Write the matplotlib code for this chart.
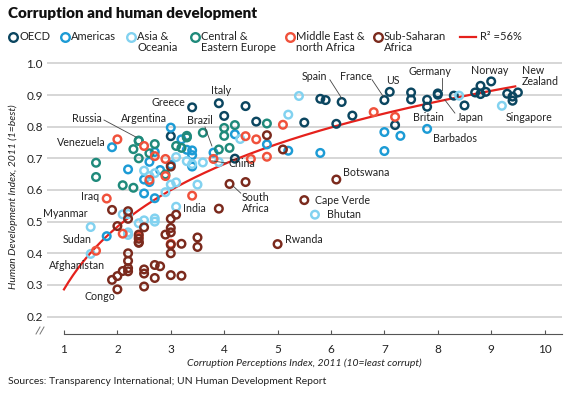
import numpy as np
import matplotlib
matplotlib.use("Agg")
import matplotlib.pyplot as plt
from matplotlib.lines import Line2D

plt.rcParams['font.family'] = ['Lato', 'DejaVu Sans']

# ---------------- data ----------------
oecd_cpi = [8.8, 7.8, 7.5, 7.8, 8.7, 7.2, 4.4, 9.4, 6.4, 9.4, 7.0, 8.0, 3.4, 4.6, 8.3, 7.5, 5.8, 3.9,
            8.0, 8.5, 3.0, 8.9, 9.5, 9.0, 5.5, 6.1, 4.0, 5.9, 6.2, 9.3, 8.8, 4.2, 7.1]
oecd_hdi = [0.929, 0.885, 0.886, 0.863, 0.908, 0.805, 0.865, 0.895, 0.835, 0.882, 0.884, 0.905, 0.861,
            0.816, 0.898, 0.908, 0.888, 0.874, 0.901, 0.867, 0.770, 0.910, 0.908, 0.943, 0.813, 0.809,
            0.834, 0.884, 0.878, 0.904, 0.903, 0.699, 0.910]

americas_cpi = [3.0, 7.3, 7.8, 2.8, 3.8, 3.4, 4.8, 4.2, 5.2, 2.6, 2.7, 3.4, 2.7, 2.5, 1.8, 2.6, 3.3,
                2.5, 3.3, 2.2, 3.4, 7.0, 5.8, 3.0, 3.2, 7.0, 1.9]
americas_hdi = [0.797, 0.771, 0.793, 0.663, 0.718, 0.710, 0.744, 0.776, 0.724, 0.689, 0.720, 0.674,
                0.574, 0.633, 0.454, 0.625, 0.727, 0.589, 0.768, 0.665, 0.725, 0.723, 0.717, 0.680,
                0.760, 0.783, 0.735]

asia_cpi = [1.5, 2.7, 5.7, 5.2, 2.1, 3.6, 8.4, 3.1, 3.0, 3.1, 5.4, 2.2, 4.3, 2.5, 2.7, 1.5, 2.2, 2.5,
            2.2, 2.6, 3.9, 9.2, 2.7, 3.3, 3.4, 2.4, 3.1, 3.5, 2.9]
asia_hdi = [0.398, 0.500, 0.522, 0.838, 0.523, 0.687, 0.898, 0.547, 0.617, 0.624, 0.897, 0.524, 0.761,
            0.661, 0.653, 0.483, 0.458, 0.504, 0.466, 0.644, 0.688, 0.866, 0.510, 0.691, 0.682, 0.495,
            0.704, 0.617, 0.593]

cee_cpi = [3.1, 2.6, 2.4, 2.4, 3.2, 3.3, 4.0, 4.1, 2.7, 2.1, 4.2, 4.8, 3.9, 2.9, 4.0, 3.6, 2.4, 3.3,
           2.3, 1.6, 2.3, 1.6]
cee_hdi = [0.739, 0.716, 0.700, 0.756, 0.733, 0.771, 0.796, 0.733, 0.745, 0.615, 0.805, 0.810, 0.728,
           0.649, 0.771, 0.781, 0.755, 0.766, 0.607, 0.686, 0.729, 0.641]

mena_cpi = [2.9, 5.1, 2.9, 2.7, 1.8, 4.5, 4.6, 2.5, 2.0, 3.4, 4.8, 7.2, 4.4, 1.6, 2.6, 3.8, 6.8, 2.1,
            3.0, 2.4]
mena_hdi = [0.698, 0.806, 0.644, 0.707, 0.573, 0.698, 0.760, 0.739, 0.760, 0.582, 0.705, 0.831, 0.770,
            0.408, 0.632, 0.698, 0.846, 0.462, 0.430, 0.453]

ssa_cpi = [2.0, 3.0, 6.1, 3.0, 1.9, 2.5, 5.5, 2.2, 2.0, 2.4, 2.2, 2.0, 2.2, 1.9, 2.5, 2.7, 3.0, 3.5,
           3.9, 2.1, 2.2, 2.2, 3.5, 3.2, 3.0, 3.0, 2.8, 5.1, 2.7, 4.4, 2.5, 2.4, 5.0, 3.0, 2.9, 4.8,
           2.5, 4.1, 3.1, 3.0, 2.4, 2.4, 3.2, 2.2]
ssa_hdi = [0.486, 0.427, 0.633, 0.331, 0.316, 0.482, 0.568, 0.343, 0.328, 0.433, 0.533, 0.286, 0.400,
           0.537, 0.349, 0.363, 0.674, 0.420, 0.541, 0.344, 0.353, 0.509, 0.450, 0.329, 0.480, 0.400,
           0.359, 0.728, 0.322, 0.625, 0.295, 0.459, 0.429, 0.509, 0.459, 0.773, 0.336, 0.619, 0.522,
           0.466, 0.435, 0.446, 0.430, 0.376]

groups = ["OECD", "Americas", "Asia &\nOceania", "Central &\nEastern Europe",
          "Middle East &\nnorth Africa", "Sub-Saharan\nAfrica"]
group_x = [oecd_cpi, americas_cpi, asia_cpi, cee_cpi, mena_cpi, ssa_cpi]
group_y = [oecd_hdi, americas_hdi, asia_hdi, cee_hdi, mena_hdi, ssa_hdi]
colors = ["#0b4660", "#1c9bd5", "#82d2f0", "#1f8a7b", "#f0513b", "#7b2a1d"]

# trend: HDI = intercept + slope * ln(CPI)
trend_intercept = 0.286
trend_slope = 0.2855
trend_range = [1.0, 9.45]

x_ticks = [1, 2, 3, 4, 5, 6, 7, 8, 9, 10]
y_ticks = [0.2, 0.3, 0.4, 0.5, 0.6, 0.7, 0.8, 0.9, 1.0]
r2_text = "R² =56%"

# labels: text, (x, y) anchor, ha, leader (x0, y0, x1, y1) or None
labels = [
    ("Russia", 1.71, 0.827, 'right', (1.75, 0.821, 2.35, 0.767)),
    ("Argentina", 2.93, 0.827, 'right', None),
    ("Venezuela", 1.77, 0.751, 'right', None),
    ("Greece", 3.27, 0.875, 'right', None),
    ("Italy", 3.94, 0.913, 'center', None),
    ("Brazil", 3.79, 0.821, 'right', (3.64, 0.799, 3.77, 0.739)),
    ("China", 4.09, 0.685, 'left', (4.05, 0.685, 3.77, 0.692)),
    ("South\nAfrica", 4.33, 0.558, 'left', (4.31, 0.590, 4.17, 0.612)),
    ("Botswana", 6.22, 0.654, 'left', None),
    ("Cape Verde", 5.70, 0.568, 'left', None),
    ("Bhutan", 5.93, 0.524, 'left', None),
    ("Rwanda", 5.14, 0.445, 'left', None),
    ("Spain", 5.93, 0.957, 'right', (5.98, 0.948, 6.20, 0.890)),
    ("France", 6.17, 0.957, 'left', (6.77, 0.948, 6.98, 0.895)),
    ("US", 7.16, 0.947, 'center', None),
    ("Germany", 7.85, 0.973, 'center', (8.08, 0.954, 8.08, 0.917)),
    ("Britain", 7.82, 0.830, 'center', None),
    ("Japan", 8.36, 0.830, 'left', (8.32, 0.843, 8.13, 0.885)),
    ("Barbados", 7.91, 0.764, 'left', None),
    ("Norway", 8.98, 0.976, 'center', None),
    ("New\nZealand", 9.58, 0.960, 'left', None),
    ("Singapore", 9.28, 0.830, 'left', None),
    ("Iraq", 1.66, 0.578, 'right', None),
    ("Myanmar", 1.45, 0.527, 'right', None),
    ("Sudan", 1.52, 0.442, 'right', None),
    ("Afghanistan", 1.77, 0.360, 'right', None),
    ("Congo", 1.96, 0.262, 'right', None),
    ("India", 3.23, 0.540, 'left', None),
]

# ---------------- figure ----------------
W, H = 571, 395
fig = plt.figure(figsize=(W / 100, H / 100), dpi=100)
ax = fig.add_axes([47 / W, 61 / H, 515 / W, 273.8 / H])
ax.set_xlim(0.682, 10.326)
ax.set_ylim(0.145, 1.01)

for s in ['top', 'right', 'left']:
    ax.spines[s].set_visible(False)
ax.spines['bottom'].set_bounds(1, 10.326)
ax.spines['bottom'].set_color('#555555')
ax.spines['bottom'].set_linewidth(0.8)

for yv in y_ticks:
    ax.axhline(yv, color='#cccccc', lw=1.1, zorder=0)

ax.set_yticks(y_ticks)
ax.set_yticklabels([f"{v:.1f}" for v in y_ticks])
ax.tick_params(axis='y', length=0, pad=3, labelsize=8.5, colors='#222222')
ax.set_xticks(x_ticks)
ax.tick_params(axis='x', direction='in', length=3, width=0.8, color='#555555',
               pad=7, labelsize=8.5, labelcolor='#222222')

xs = np.linspace(trend_range[0], trend_range[1], 200)
ax.plot(xs, trend_intercept + trend_slope * np.log(xs), color='#e5211c', lw=1.6, zorder=2)

for gx, gy, c in zip(group_x, group_y, colors):
    ax.scatter(gx, gy, s=30, facecolors='none', edgecolors=c, linewidths=1.75, zorder=3)

for txt, tx, ty, ha, lead in labels:
    ax.text(tx, ty, txt, ha=ha, va='center', fontsize=7.7, color='#222222',
            linespacing=0.95, zorder=4)
    if lead is not None:
        ax.plot([lead[0], lead[2]], [lead[1], lead[3]], color='#444444', lw=0.6, zorder=4)

ax.set_xlabel("Corruption Perceptions Index, 2011 (10=least corrupt)", fontsize=7.5,
              style='italic', color='#222222', labelpad=3)
ax.set_ylabel("Human Development Index, 2011 (1=best)", fontsize=7.5,
              style='italic', color='#222222', labelpad=6)

# axis break symbol
for dx in (0, 4):
    fig.add_artist(Line2D([(36 + dx) / W, (40 + dx) / W], [1 - 334 / H, 1 - 327 / H],
                          color='#777777', lw=0.7))

# title
fig.text(8 / W, 1 - 13 / H, "Corruption and human development", fontsize=11,
         fontweight='heavy', ha='left', va='center', color='#111111')

# legend
leg_cx = [13, 65, 131, 195, 290, 378]
ly = 1 - 37 / H
for cx, c, g in zip(leg_cx, colors, groups):
    fig.add_artist(Line2D([cx / W], [ly], marker='o', markersize=6.2, mfc='none',
                          mec=c, mew=1.7, ls='none'))
    fig.text((cx + 6) / W, 1 - 31 / H, g, fontsize=8, ha='left', va='top',
             linespacing=0.95, color='#222222')
fig.add_artist(Line2D([460 / W, 476 / W], [ly, ly], color='#e5211c', lw=1.6))
fig.text(480 / W, ly, r2_text, fontsize=8, ha='left', va='center', color='#222222')

fig.text(8 / W, 1 - 381 / H, "Sources: Transparency International; UN Human Development Report",
         fontsize=7.5, ha='left', va='center', color='#222222')

fig.savefig("out.png", dpi=100)
